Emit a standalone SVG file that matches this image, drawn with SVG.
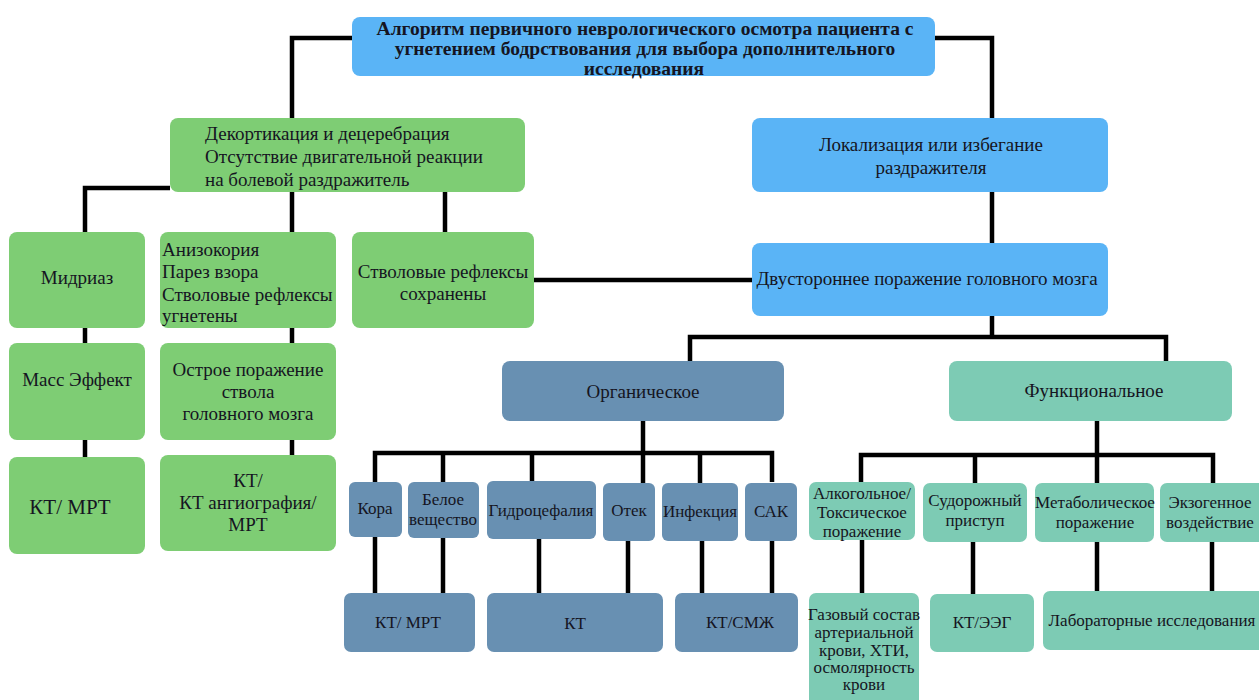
<svg xmlns="http://www.w3.org/2000/svg" width="1259" height="700" viewBox="0 0 1259 700">
<style>
text{font-family:"Liberation Serif","DejaVu Serif Condensed","DejaVu Serif",serif;font-size:17px;fill:#151522}
.L{font-size:19px}
.c{text-anchor:middle}
.b{font-weight:bold;font-size:19.5px}
.blue{fill:#5ab4f6}
.green{fill:#7ecd74}
.steel{fill:#6890b2}
.teal{fill:#7dcbb4}
#connectors path{fill:none;stroke:#000;stroke-width:4.5;stroke-linecap:butt;stroke-linejoin:miter}
</style>
<rect width="1259" height="700" fill="#fff"/>
<g id="connectors">
<path d="M352 38H292V118"/>
<path d="M935 38H992V118"/>
<path d="M170 188H85V232"/>
<path d="M292 192V232"/>
<path d="M445 192V232"/>
<path d="M534 280H752"/>
<path d="M992 192V243"/>
<path d="M992 316V337"/>
<path d="M690 361V337H1166V361"/>
<path d="M85 328V343M85 440V457"/>
<path d="M292 328V343M292 440V455"/>
<path d="M643 421V453"/>
<path d="M375 482V453H772V482"/>
<path d="M443 453V482M532 453V481M643 453V483M700 453V483"/>
<path d="M375 537V593M443 538V593M539 539V593M628 541V593M702 541V593M772 541V593"/>
<path d="M1097 421V455"/>
<path d="M861 482V455H1213V483"/>
<path d="M975 455V483M1097 455V483"/>
<path d="M862 540V593M973 542V594M1097 542V591M1212 542V591"/>
</g>
<g id="title"><rect class="blue" x="352" y="17" width="583" height="59" rx="8"/>
<text class="c b" x="645" y="35">Алгоритм первичного неврологического осмотра пациента с</text>
<text class="c b" x="645" y="55">угнетением бодрствования для выбора дополнительного</text>
<text class="c b" x="644" y="75">исследования</text></g>
<g id="decort"><rect class="green" x="170" y="118" width="355" height="74" rx="8"/>
<text class="L" x="205" y="140">Декортикация и децеребрация</text>
<text class="L" x="205" y="163">Отсутствие двигательной реакции</text>
<text class="L" x="205" y="186">на болевой раздражитель</text></g>
<g id="local"><rect class="blue" x="752" y="118" width="356" height="74" rx="8"/>
<text class="L c" x="931" y="151">Локализация или избегание</text>
<text class="L c" x="931" y="174">раздражителя</text></g>
<g id="midriaz"><rect class="green" x="9" y="232" width="136" height="96" rx="8"/>
<text class="L c" x="77" y="284">Мидриаз</text></g>
<g id="anizo"><rect class="green" x="160" y="232" width="176" height="96" rx="8"/>
<text class="L" x="162" y="256">Анизокория</text>
<text class="L" x="162" y="278">Парез взора</text>
<text class="L" x="162" y="301">Стволовые рефлексы</text>
<text class="L" x="162" y="322">угнетены</text></g>
<g id="stvol"><rect class="green" x="352" y="232" width="182" height="96" rx="8"/>
<text class="L c" x="443" y="278">Стволовые рефлексы</text>
<text class="L c" x="443" y="300">сохранены</text></g>
<g id="dvust"><rect class="blue" x="752" y="243" width="356" height="73" rx="8"/>
<text class="L c" x="927" y="285">Двустороннее поражение головного мозга</text></g>
<g id="mass"><rect class="green" x="9" y="343" width="136" height="97" rx="8"/>
<text class="L c" x="77" y="386">Масс Эффект</text></g>
<g id="ostroe"><rect class="green" x="160" y="343" width="176" height="97" rx="8"/>
<text class="L c" x="248" y="376">Острое поражение</text>
<text class="L c" x="248" y="398">ствола</text>
<text class="L c" x="248" y="420">головного мозга</text></g>
<g id="ktmrt1"><rect class="green" x="9" y="457" width="136" height="97" rx="8"/>
<text class="c" style="font-size:21px" x="70" y="514">КТ/ МРТ</text></g>
<g id="ktangio"><rect class="green" x="160" y="455" width="176" height="96" rx="8"/>
<text class="L c" x="248" y="487">КТ/</text>
<text class="L c" x="248" y="509">КТ ангиография/</text>
<text class="L c" x="248" y="531">МРТ</text></g>
<g id="organ"><rect class="steel" x="502" y="361" width="282" height="60" rx="8"/>
<text class="L c" x="643" y="398">Органическое</text></g>
<g id="func"><rect class="teal" x="949" y="361" width="283" height="60" rx="8"/>
<text class="L c" x="1094" y="397">Функциональное</text></g>
<g id="kora"><rect class="steel" x="349" y="482" width="53" height="55" rx="6"/>
<text class="c" x="375" y="514">Кора</text></g>
<g id="beloe"><rect class="steel" x="408" y="482" width="71" height="56" rx="6"/>
<text class="c" x="443" y="505">Белое</text>
<text class="c" x="443" y="525">вещество</text></g>
<g id="gidro"><rect class="steel" x="487" y="481" width="109" height="58" rx="6"/>
<text class="c" x="541" y="516">Гидроцефалия</text></g>
<g id="otek"><rect class="steel" x="603" y="483" width="52" height="58" rx="6"/>
<text class="c" x="629" y="516">Отек</text></g>
<g id="infek"><rect class="steel" x="662" y="483" width="76" height="58" rx="6"/>
<text class="c" x="700" y="517">Инфекция</text></g>
<g id="sak"><rect class="steel" x="745" y="483" width="52" height="58" rx="6"/>
<text class="c" x="771" y="517">САК</text></g>
<g id="ktmrt2"><rect class="steel" x="344" y="593" width="131" height="59" rx="7"/>
<text class="c" x="408" y="628">КТ/ МРТ</text></g>
<g id="kt"><rect class="steel" x="487" y="593" width="176" height="59" rx="7"/>
<text class="c" x="575" y="629">КТ</text></g>
<g id="ktsmzh"><rect class="steel" x="675" y="593" width="123" height="59" rx="7"/>
<text class="c" x="740" y="628">КТ/СМЖ</text></g>
<g id="alko"><rect class="teal" x="809" y="482" width="106" height="58" rx="7"/>
<text class="c" x="862" y="499">Алкогольное/</text>
<text class="c" x="862" y="518">Токсическое</text>
<text class="c" x="862" y="537">поражение</text></g>
<g id="sudor"><rect class="teal" x="923" y="483" width="104" height="59" rx="7"/>
<text class="c" x="975" y="506">Судорожный</text>
<text class="c" x="975" y="526">приступ</text></g>
<g id="metab"><rect class="teal" x="1035" y="483" width="119" height="59" rx="7"/>
<text class="c" x="1095" y="508">Метаболическое</text>
<text class="c" x="1095" y="528">поражение</text></g>
<g id="exo"><rect class="teal" x="1160" y="483" width="105" height="59" rx="7"/>
<text class="c" x="1210" y="508">Экзогенное</text>
<text class="c" x="1210" y="528">воздействие</text></g>
<g id="gaz"><rect class="teal" x="809" y="593" width="110" height="115" rx="7"/>
<text class="c" x="864" y="620">Газовый состав</text>
<text class="c" x="864" y="638">артериальной</text>
<text class="c" x="864" y="656">крови, ХТИ,</text>
<text class="c" x="864" y="673">осмолярность</text>
<text class="c" x="864" y="690">крови</text></g>
<g id="kteeg"><rect class="teal" x="930" y="594" width="104" height="58" rx="7"/>
<text class="c" x="982" y="628">КТ/ЭЭГ</text></g>
<g id="labor"><rect class="teal" x="1043" y="591" width="225" height="59" rx="7"/>
<text class="c" x="1152" y="626">Лабораторные исследования</text></g>
</svg>
